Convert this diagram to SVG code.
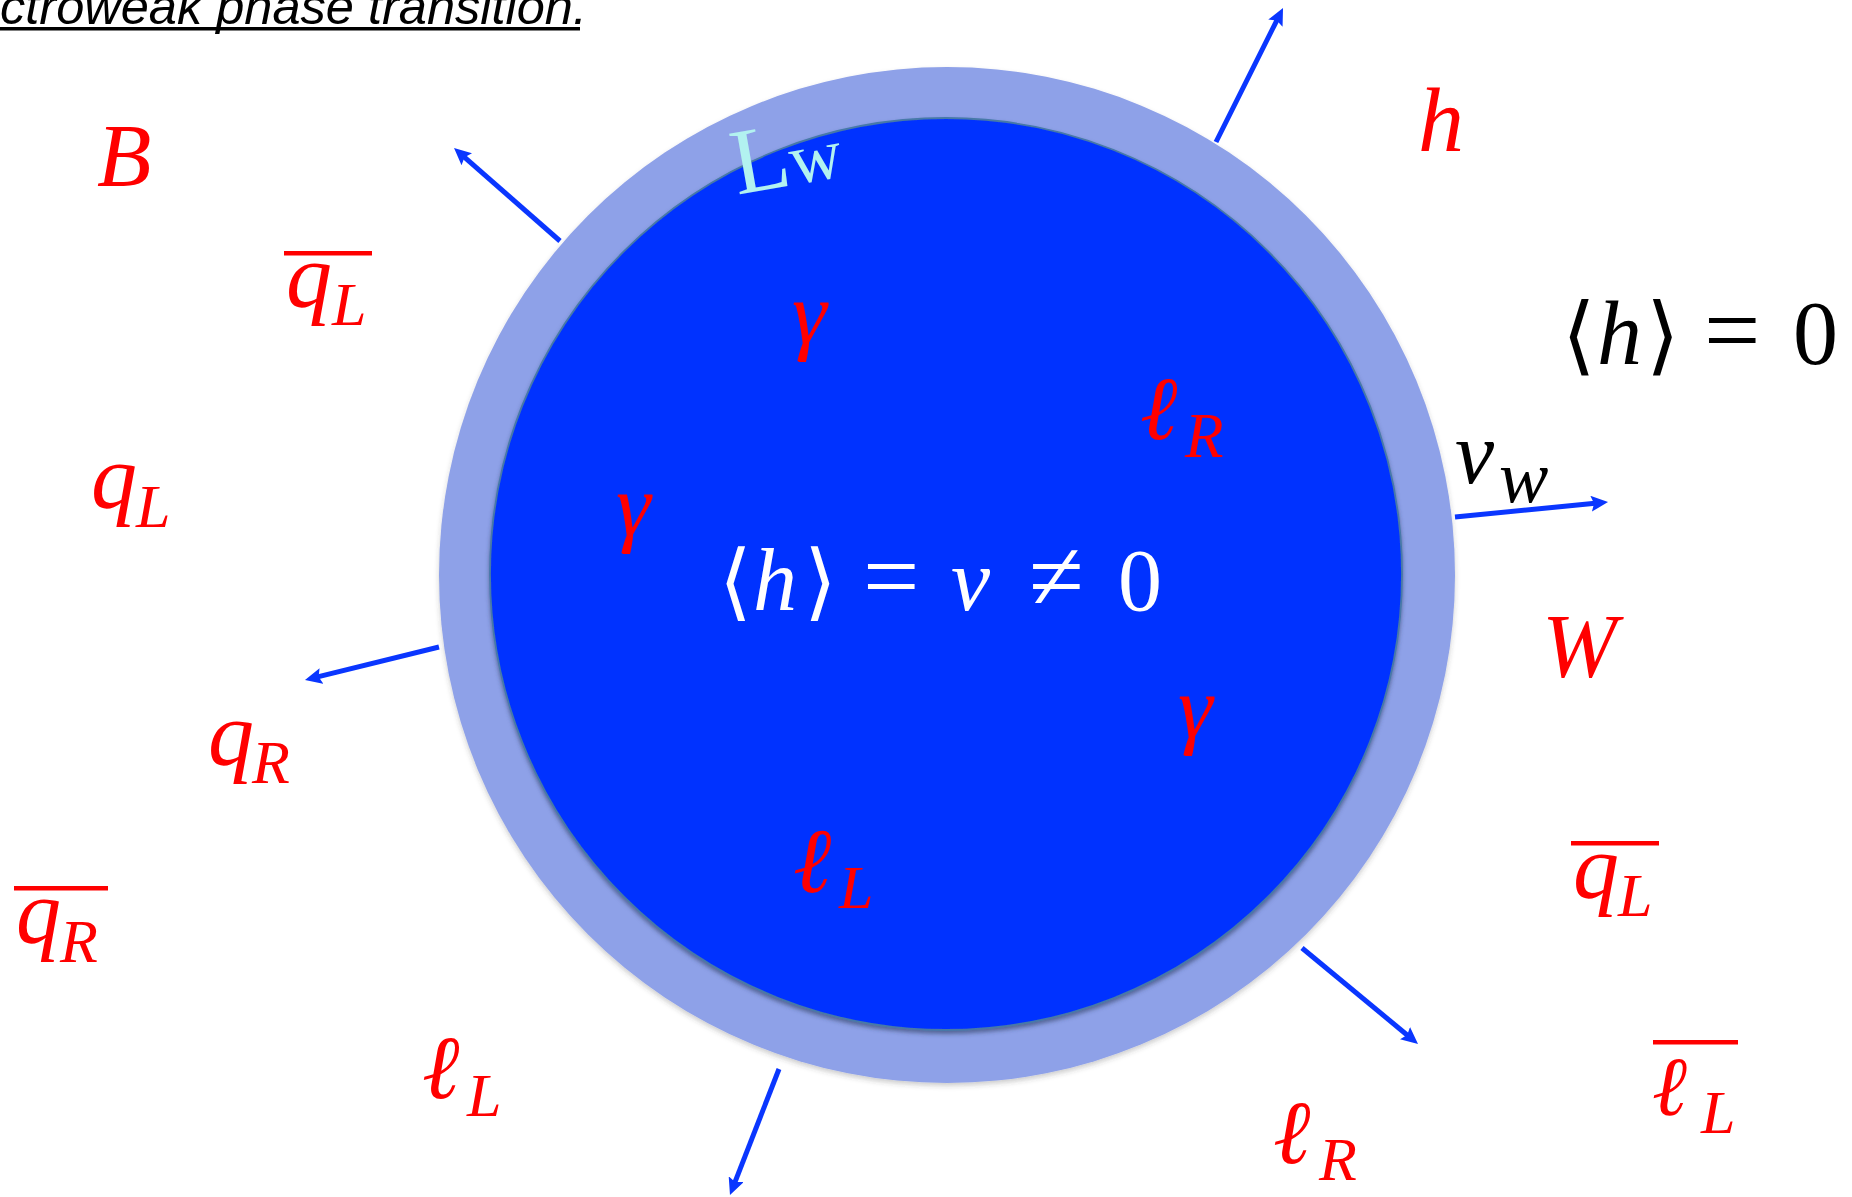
<svg xmlns="http://www.w3.org/2000/svg" width="1852" height="1197" viewBox="0 0 1852 1197">
<style>
.m{font-family:"Liberation Serif","DejaVu Serif",serif;font-style:italic;fill:#FF0000}
.up{font-style:normal}
.br{font-family:"DejaVu Serif","DejaVu Sans",serif;font-style:normal}
.blk{fill:#000000}
.wht{fill:#FFFFFF}
.arrow{stroke:#0A36FF;stroke-width:5;fill:none;marker-end:url(#ah)}
.bar{fill:#FF0000}
</style>
<defs>
<marker id="ah" markerUnits="userSpaceOnUse" markerWidth="18" markerHeight="16" refX="4" refY="8" orient="auto" viewBox="0 0 18 16">
<path d="M0,0 L17,8 L0,16 L3,8 z" fill="#0A36FF"/>
</marker>
<filter id="sh1" x="-10%" y="-10%" width="120%" height="120%">
<feDropShadow dx="0" dy="3" stdDeviation="2.5" flood-color="#404040" flood-opacity="0.25"/>
</filter>
<filter id="sh2" x="-10%" y="-10%" width="120%" height="120%">
<feDropShadow dx="0" dy="3" stdDeviation="2" flood-color="#2a3a60" flood-opacity="0.6"/>
</filter>
</defs>
<rect width="1852" height="1197" fill="#FFFFFF"/>

<g id="title">
<text x="0" y="24" font-family="Liberation Sans, Arial, sans-serif" font-style="italic" font-size="50" fill="#000" textLength="587" lengthAdjust="spacingAndGlyphs">ctroweak phase transition.</text>
<rect x="0" y="27" width="580" height="3.5" fill="#000"/>
</g>

<g id="bubble">
<circle id="wall" cx="947" cy="575" r="508" fill="#8EA1E8" filter="url(#sh1)"/>
<circle id="interior" cx="946" cy="574" r="456" fill="#0433FF" stroke="#4679A8" stroke-width="1.8" filter="url(#sh2)"/>
</g>

<g id="label-Lw">
<text x="737" y="193" font-family="Liberation Serif, DejaVu Serif, serif" font-size="94" fill="#B2F2F0" transform="rotate(-10 747 193)">L<tspan font-size="72">w</tspan></text>
</g>

<g id="connectors">
<line class="arrow" x1="560" y1="241" x2="463.8" y2="156.6"/>
<line class="arrow" x1="1216" y1="142" x2="1277.2" y2="19.6"/>
<line class="arrow" x1="439" y1="647" x2="317.6" y2="676.9"/>
<line class="arrow" x1="1455" y1="517" x2="1595.1" y2="503.3"/>
<line class="arrow" x1="1302" y1="948" x2="1408" y2="1035.7"/>
<line class="arrow" x1="779" y1="1069" x2="734.7" y2="1182.9"/>
</g>

<g id="label-B"><text class="m" x="97" y="185" font-size="89">B</text></g>

<g id="label-qLbar-left">
<rect class="bar" x="284" y="251" width="88" height="4.5"/>
<text class="m" x="286" y="307" font-size="92">q<tspan x="332" y="325" font-size="62">L</tspan></text>
</g>

<g id="label-qL"><text class="m" x="91" y="508" font-size="92">q<tspan x="136" y="527" font-size="62">L</tspan></text></g>

<g id="label-qR"><text class="m" x="208" y="765" font-size="92">q<tspan x="252" y="783" font-size="62">R</tspan></text></g>

<g id="label-qRbar">
<rect class="bar" x="14" y="886" width="94" height="4.5"/>
<text class="m" x="16" y="943" font-size="90">q<tspan x="60" y="962" font-size="62">R</tspan></text>
</g>

<g id="label-lL-out"><text class="m" x="422" y="1098" font-size="90">ℓ<tspan x="467" y="1116" font-size="62">L</tspan></text></g>

<g id="label-h"><text class="m" x="1418" y="151" font-size="92">h</text></g>

<g id="label-h0">
<text class="m blk" y="364" font-size="90"><tspan class="br" x="1562" font-size="86">⟨</tspan><tspan x="1597">h</tspan><tspan class="br" x="1646" font-size="86">⟩ </tspan><tspan class="up" x="1704" font-size="100">= </tspan><tspan class="up" x="1793">0</tspan></text>
</g>

<g id="label-vw"><text class="m blk" x="1455" y="483" font-size="88">v<tspan x="1499" y="502" font-size="74">w</tspan></text></g>

<g id="label-W"><text class="m" x="1542" y="677" font-size="90">W</text></g>

<g id="label-qLbar-right">
<rect class="bar" x="1571" y="841" width="88" height="4.5"/>
<text class="m" x="1573" y="898" font-size="92">q<tspan x="1618" y="916" font-size="62">L</tspan></text>
</g>

<g id="label-lLbar">
<rect class="bar" x="1653" y="1040" width="85" height="4.5"/>
<text class="m" x="1652" y="1115" font-size="84">ℓ<tspan x="1701" y="1133" font-size="62">L</tspan></text>
</g>

<g id="label-lR-out"><text class="m" x="1273" y="1163" font-size="90">ℓ<tspan x="1319" y="1180" font-size="62">R</tspan></text></g>

<g id="label-gamma1"><text class="m" x="792" y="343" font-size="88">γ</text></g>
<g id="label-gamma2"><text class="m" x="616" y="535" font-size="88">γ</text></g>
<g id="label-gamma3"><text class="m" x="1178" y="737" font-size="88">γ</text></g>

<g id="label-lR-in"><text class="m" x="1140" y="439" font-size="90">ℓ<tspan x="1185" y="457" font-size="63">R</tspan></text></g>

<g id="label-lL-in"><text class="m" x="793" y="892" font-size="92">ℓ<tspan x="839" y="908" font-size="62">L</tspan></text></g>

<g id="label-hv">
<text class="m wht" y="610" font-size="88"><tspan class="br" x="719" font-size="84">⟨</tspan><tspan x="753">h</tspan><tspan class="br" x="804" font-size="84">⟩ </tspan><tspan class="up" x="863" font-size="100">= </tspan><tspan x="951">v </tspan><tspan class="up" x="1029" font-size="100">≠ </tspan><tspan class="up" x="1118">0</tspan></text>
</g>
</svg>
